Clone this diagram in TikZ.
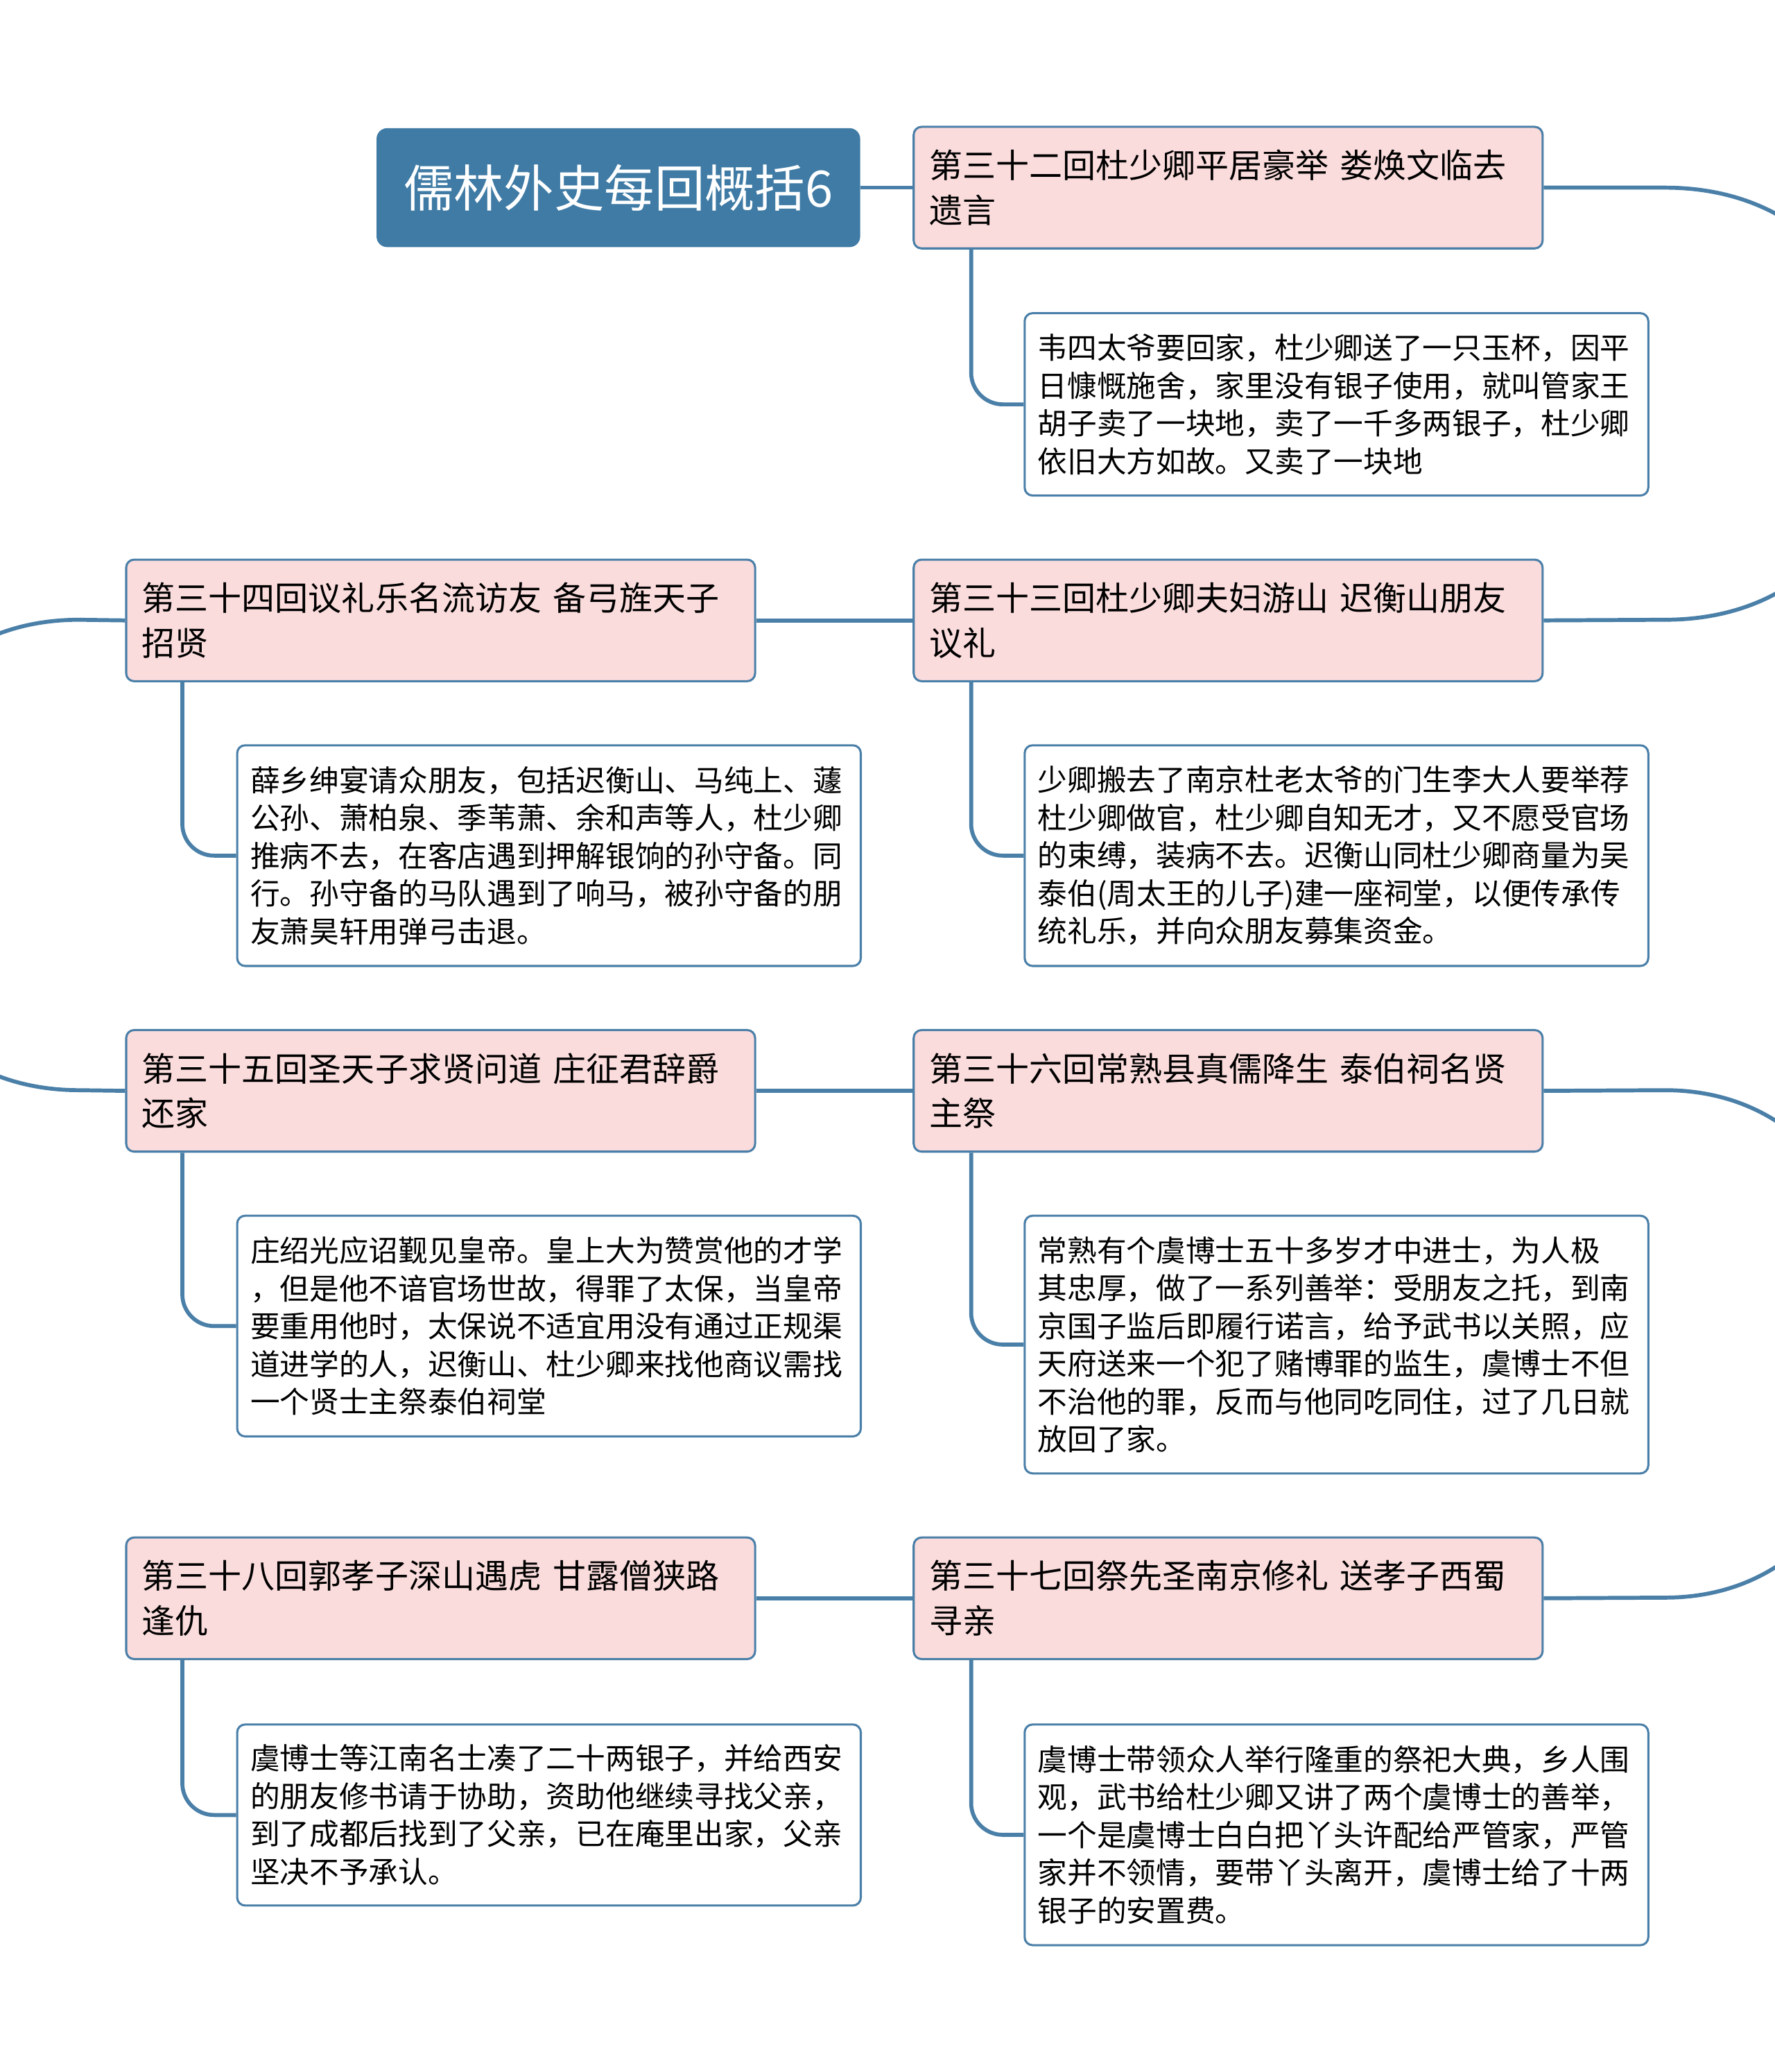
\documentclass[tikz,border=0pt]{standalone}
\usepackage{fontspec}
\setmainfont{Noto Sans CJK SC}
\definecolor{ln}{HTML}{4A7FA8}
\definecolor{hd}{HTML}{FBDCDC}
\definecolor{tt}{HTML}{3F7BA5}
\begin{document}
\begin{tikzpicture}[x=0.5pt,y=-0.5pt,
  con/.style={draw=ln,line width=1.5pt},
  head/.style={draw=ln,line width=0.8pt,fill=hd,rounded corners=3pt,minimum width=237.5pt,minimum height=46pt,text width=226pt,align=left,inner xsep=6pt,font=\fontsize{12.6}{17}\selectfont},
  body/.style={draw=ln,line width=0.8pt,fill=white,rounded corners=3pt,minimum width=235.5pt,text width=226pt,align=left,inner xsep=5pt,font=\fontsize{11.2}{14.3}\selectfont}]
\useasboundingbox (0,0) rectangle (1343,1568);
\coordinate (r1) at (1260,142); \coordinate (r2) at (1260,469);
\coordinate (l1) at (60,469); \coordinate (l2) at (60,825);
\coordinate (r3) at (1260,825); \coordinate (r4) at (1260,1209);
\node[fill=tt,rounded corners=4pt,minimum width=183pt,minimum height=45pt,text=white,font=\fontsize{19}{22}\selectfont] (t) at (468,142) {儒林外史每回概括6};
\node[head] (h32) at (929.5,142) {第三十二回杜少卿平居豪举 娄焕文临去\\遗言};
\node[head] (h33) at (929.5,469.5) {第三十三回杜少卿夫妇游山 迟衡山朋友\\议礼};
\node[head] (h34) at (333.5,469.5) {第三十四回议礼乐名流访友 备弓旌天子\\招贤};
\node[head] (h35) at (333.5,825.5) {第三十五回圣天子求贤问道 庄征君辞爵\\还家};
\node[head] (h36) at (929.5,825.5) {第三十六回常熟县真儒降生 泰伯祠名贤\\主祭};
\node[head] (h37) at (929.5,1209.5) {第三十七回祭先圣南京修礼 送孝子西蜀\\寻亲};
\node[head] (h38) at (333.5,1209.5) {第三十八回郭孝子深山遇虎 甘露僧狭路\\逢仇};
\node[body,minimum height=69pt] (b32) at (1011.5,306) {韦四太爷要回家，杜少卿送了一只玉杯，因平\\日慷慨施舍，家里没有银子使用，就叫管家王\\胡子卖了一块地，卖了一千多两银子，杜少卿\\依旧大方如故。又卖了一块地};
\node[body,minimum height=83.5pt] (b33) at (1011.5,647.5) {少卿搬去了南京杜老太爷的门生李大人要举荐\\杜少卿做官，杜少卿自知无才，又不愿受官场\\的束缚，装病不去。迟衡山同杜少卿商量为吴\\泰伯(周太王的儿子)建一座祠堂，以便传承传\\统礼乐，并向众朋友募集资金。};
\node[body,minimum height=83.5pt] (b34) at (415.5,647.5) {薛乡绅宴请众朋友，包括迟衡山、马纯上、蘧\\公孙、萧柏泉、季苇萧、余和声等人，杜少卿\\推病不去，在客店遇到押解银饷的孙守备。同\\行。孙守备的马队遇到了响马，被孙守备的朋\\友萧昊轩用弹弓击退。};
\node[body,minimum height=83.5pt] (b35) at (415.5,1003.5) {庄绍光应诏觐见皇帝。皇上大为赞赏他的才学\\，但是他不谙官场世故，得罪了太保，当皇帝\\要重用他时，太保说不适宜用没有通过正规渠\\道进学的人，迟衡山、杜少卿来找他商议需找\\一个贤士主祭泰伯祠堂};
\node[body,minimum height=97.5pt] (b36) at (1011.5,1017.5) {常熟有个虞博士五十多岁才中进士，为人极\\其忠厚，做了一系列善举：受朋友之托，到南\\京国子监后即履行诺言，给予武书以关照，应\\天府送来一个犯了赌博罪的监生，虞博士不但\\不治他的罪，反而与他同吃同住，过了几日就\\放回了家。};
\node[body,minimum height=83.5pt] (b37) at (1011.5,1388.5) {虞博士带领众人举行隆重的祭祀大典，乡人围\\观，武书给杜少卿又讲了两个虞博士的善举，\\一个是虞博士白白把丫头许配给严管家，严管\\家并不领情，要带丫头离开，虞博士给了十两\\银子的安置费。};
\node[body,minimum height=68.5pt] (b38) at (415.5,1373.5) {虞博士等江南名士凑了二十两银子，并给西安\\的朋友修书请于协助，资助他继续寻找父亲，\\到了成都后找到了父亲，已在庵里出家，父亲\\坚决不予承认。};
\draw[con] (t.east) -- (h32.west);
\draw[con] (h32.east) -- (r1) .. controls (1480,142) and (1480,469) .. (r2) -- (h33.east);
\draw[con] (h33.west) -- (h34.east);
\draw[con] (h34.west) -- (l1) .. controls (-160,469) and (-160,825) .. (l2) -- (h35.west);
\draw[con] (h35.east) -- (h36.west);
\draw[con] (h36.east) -- (r3) .. controls (1480,825) and (1480,1209) .. (r4) -- (h37.east);
\draw[con] (h37.west) -- (h38.east);
\foreach \h/\b/\x in {h32/b32/735,h33/b33/735,h34/b34/138,h35/b35/138,h36/b36/735,h37/b37/735,h38/b38/138}{
  \draw[con,rounded corners=12pt] (\h.south -| \x,0) |- (\b.west);
}
\end{tikzpicture}
\end{document}
